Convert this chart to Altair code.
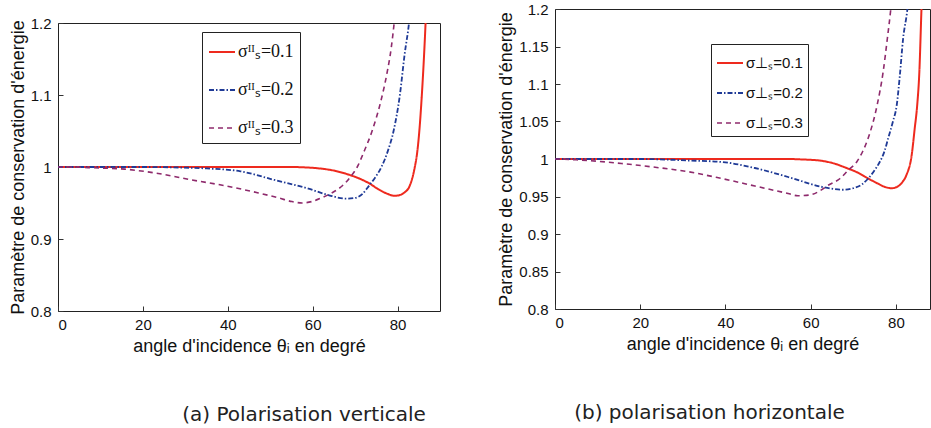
import altair as alt
import pandas as pd

# ---------------- data ----------------
left_labels = ["σᴵᴵₛ=0.1", "σᴵᴵₛ=0.2", "σᴵᴵₛ=0.3"]
right_labels = ["σ⊥ₛ=0.1", "σ⊥ₛ=0.2", "σ⊥ₛ=0.3"]

# (a) polarisation verticale
a1_x = [0, 10, 20, 30, 40, 50, 55, 58, 61.6, 65, 68.7, 71, 73.4, 75.5, 77.5, 79.3, 80.5, 81.7, 82.8, 84.0, 84.6, 85.2, 85.7, 86.2, 86.6, 87.0]
a1_y = [1, 1, 1, 1, 1, 1, 1, 0.9995, 0.998, 0.995, 0.989, 0.984, 0.977, 0.969, 0.963, 0.960, 0.961, 0.965, 0.973, 0.998, 1.019, 1.055, 1.098, 1.15, 1.2, 1.26]
a2_x = [0, 10, 20, 27, 35, 43, 51, 59, 63.7, 67.9, 70, 71.8, 73.4, 74.8, 76.2, 77.7, 79.1, 80.5, 81.7, 82.7, 83.2]
a2_y = [1, 1, 1, 0.9995, 0.998, 0.994, 0.982, 0.970, 0.961, 0.956, 0.957, 0.963, 0.975, 0.986, 1.0, 1.022, 1.051, 1.098, 1.158, 1.2, 1.23]
a3_x = [0, 4, 7.9, 15.7, 23.6, 31.5, 39.3, 47.2, 52, 55.1, 57.5, 59.8, 62, 64.5, 67, 69, 70.5, 72, 74, 76, 77.5, 78.5, 79.2, 79.7]
a3_y = [1, 0.9998, 0.999, 0.997, 0.991, 0.982, 0.974, 0.964, 0.957, 0.952, 0.950, 0.952, 0.957, 0.964, 0.974, 0.987, 1.0, 1.02, 1.05, 1.09, 1.13, 1.165, 1.2, 1.23]

# (b) polarisation horizontale
b1_x = [0, 10, 20, 30, 40, 50, 55, 57.5, 62, 65.5, 68.4, 71, 73.5, 75.5, 77.3, 79.0, 80.3, 81.5, 82.5, 83.7, 84.4, 85.0, 85.5, 86.0, 86.4]
b1_y = [1, 1, 1, 1, 1, 1, 1, 0.9995, 0.998, 0.994, 0.988, 0.982, 0.974, 0.968, 0.963, 0.961, 0.963, 0.969, 0.979, 1.005, 1.04, 1.072, 1.116, 1.2, 1.26]
b2_x = [0, 10, 20, 31.3, 39.1, 46.9, 54.7, 62.5, 65.5, 67.6, 70, 72, 73.5, 75, 76.2, 77.3, 78.2, 79.3, 80.2, 80.9, 81.7, 82.7, 83.2]
b2_y = [1, 1, 1, 0.998, 0.996, 0.988, 0.976, 0.963, 0.960, 0.959, 0.961, 0.966, 0.974, 0.985, 0.996, 1.01, 1.028, 1.05, 1.072, 1.11, 1.161, 1.2, 1.23]
b3_x = [0, 5, 10, 15.6, 23.5, 31.3, 39.1, 46.9, 54.7, 57, 59.8, 62, 64.1, 66.9, 68.8, 70.8, 72.2, 73.5, 75.6, 77.0, 78.0, 78.8, 79.3]
b3_y = [1, 0.999, 0.997, 0.994, 0.989, 0.983, 0.974, 0.964, 0.954, 0.951, 0.952, 0.957, 0.965, 0.974, 0.985, 0.996, 1.01, 1.028, 1.072, 1.116, 1.161, 1.2, 1.23]

x_ticks = [0, 20, 40, 60, 80]
left_y_ticks = [0.8, 0.9, 1.0, 1.1, 1.2]
right_y_ticks = [0.8, 0.85, 0.9, 0.95, 1.0, 1.05, 1.1, 1.15, 1.2]

colors = ["#ee2a1e", "#1f3a96", "#8e2a6c"]
dashes = [[1, 0], [5, 2, 1.5, 2], [5, 4]]
widths = [2, 1.6, 1.6]

x_title = "angle d'incidence θᵢ en degré"
y_title = "Paramètre de conservation d'énergie"


def make_df(series, labels):
    rows = []
    for (xs, ys), lab in zip(series, labels):
        for xv, yv in zip(xs, ys):
            rows.append({"angle": xv, "val": yv, "serie": lab})
    return pd.DataFrame(rows)


def panel(df, labels, xmax, w, h, yticks, legend, caption, cap_dx):
    leg = alt.Legend(**legend)
    lines = alt.Chart(df).mark_line(clip=True, interpolate="monotone").encode(
        x=alt.X("angle:Q",
                scale=alt.Scale(domain=[0, xmax], nice=False, zero=False),
                axis=alt.Axis(values=x_ticks, title=x_title, offset=-5, domain=False,
                              tickSize=5, tickColor="#333", labelPadding=6, titlePadding=5,
                              labelFont="Liberation Sans", labelFontSize=15,
                              titleFont="Liberation Sans", titleFontSize=18, titleFontWeight="normal",
                              labelColor="#111", titleColor="#111", grid=False)),
        y=alt.Y("val:Q",
                scale=alt.Scale(domain=[0.8, 1.2], nice=False, zero=False),
                axis=alt.Axis(values=yticks, format=".2~f", title=y_title, offset=-5, domain=False,
                              tickSize=5, tickColor="#333", labelPadding=7, titlePadding=3,
                              labelFont="Liberation Sans", labelFontSize=15,
                              titleFont="Liberation Sans", titleFontSize=18, titleFontWeight="normal",
                              labelColor="#111", titleColor="#111", grid=False)),
        color=alt.Color("serie:N", scale=alt.Scale(domain=labels, range=colors), legend=leg),
        strokeDash=alt.StrokeDash("serie:N", scale=alt.Scale(domain=labels, range=dashes), legend=leg),
        strokeWidth=alt.StrokeWidth("serie:N", scale=alt.Scale(domain=labels, range=widths), legend=None),
    )
    return lines.properties(
        width=w, height=h,
        view=alt.ViewBackground(stroke="#222", strokeWidth=1),
        title=alt.TitleParams(caption, orient="bottom", font="DejaVu Sans", fontSize=20,
                              fontWeight="normal", color="#222", dx=cap_dx, offset=50, anchor="middle"),
    )


left_legend = dict(orient="none", legendX=144, legendY=23, title=None, fillColor="white",
                   strokeColor="#222", padding=6, symbolType="stroke", symbolSize=676,
                   symbolStrokeWidth=2, labelFont="Liberation Serif", labelFontSize=18,
                   labelColor="#111", rowPadding=15, labelOffset=2, labelLimit=200)
right_legend = dict(orient="none", legendX=156, legendY=35, title=None, fillColor="white",
                    strokeColor="#222", padding=5, symbolType="stroke", symbolSize=676,
                    symbolStrokeWidth=2, labelFont="Liberation Sans", labelFontSize=15,
                    labelColor="#111", rowPadding=8, labelOffset=2, labelLimit=200)

left = panel(make_df([(a1_x, a1_y), (a2_x, a2_y), (a3_x, a3_y)], left_labels),
             left_labels, 90, 382, 288, left_y_ticks, left_legend,
             "(a)  Polarisation verticale", 55)
right = panel(make_df([(b1_x, b1_y), (b2_x, b2_y), (b3_x, b3_y)], right_labels),
              right_labels, 88, 375, 300, right_y_ticks, right_legend,
              "(b) polarisation horizontale", -33)

# invisible spacer that pushes the left panel down, as in the reference
spacer = alt.Chart(pd.DataFrame({"k": [0]})).mark_rule(color="white", strokeWidth=1).encode(
    x=alt.value(0), y=alt.value(0), y2=alt.value(1)
).properties(width=1, height=6, view=alt.ViewBackground(strokeOpacity=0))

left_col = alt.vconcat(spacer, left, spacing=0)

chart = alt.hconcat(left_col, right, spacing=56).resolve_scale(
    color="independent", strokeDash="independent", strokeWidth="independent"
).properties(
    padding={"left": 8, "top": 1, "right": 0, "bottom": 0}
).configure(background="white")

chart.save("out.html", embed_options={"renderer": "svg", "actions": False})
